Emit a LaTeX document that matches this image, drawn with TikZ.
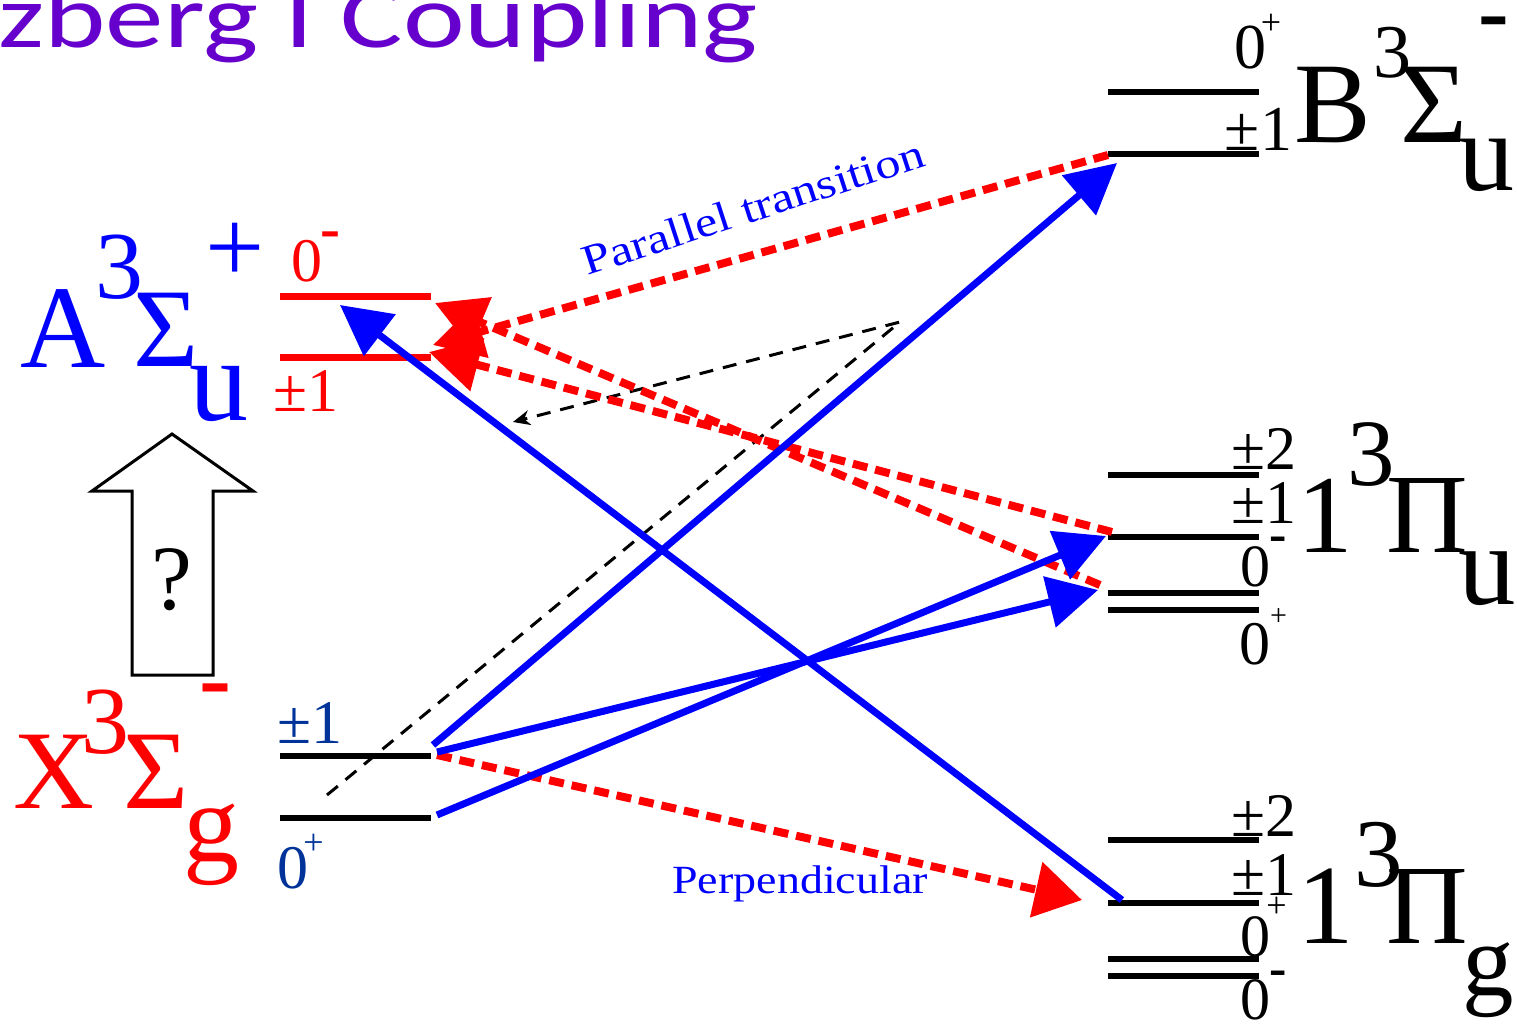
\documentclass[tikz,border=0pt]{standalone}
\usepackage{fontspec}
\setmainfont{Liberation Serif}
\newfontfamily\titlefont{Carlito}
\usetikzlibrary{arrows.meta}
\newcommand\fsz[1]{\fontsize{#1}{#1}\selectfont}
\definecolor{xblue}{RGB}{0,51,153}
\definecolor{ttl}{RGB}{102,0,204}
\tikzset{
  lbl/.style={inner sep=0pt, anchor=center},
  lvl/.style={line width=5.5pt},
  alvl/.style={line width=7pt, red},
  barr/.style={blue, line width=7pt, -{Triangle[length=50pt,width=51pt]}},
  rarr/.style={red, line width=8pt, dash pattern=on 15pt off 8pt, -{Triangle[length=50pt,width=53pt]}},
  karr/.style={black, line width=3pt, dash pattern=on 14pt off 10pt, -{Stealth[length=17pt,width=15pt]}},
  hollow/.style={draw=black, line width=3pt, fill=white, line join=miter}
}
\begin{document}
\begin{tikzpicture}[x=1pt,y=-1pt]
\useasboundingbox (0,0) rectangle (1517,1023);

% title
\node[inner sep=0pt, anchor=base west, text=ttl] (title) at (-2,47) {\scalebox{1.3}[1]{\titlefont\fsz{90}zberg I Coupling}};

% level lines
\draw[alvl] (280,296) coordinate (a0w) -- (431,296) coordinate (a0);
\draw[alvl] (280,357) coordinate (a1w) -- (431,357) coordinate (a1);
\draw[lvl] (280,756) coordinate (x1w) -- (431,756) coordinate (x1);
\draw[lvl] (280,818) coordinate (x0w) -- (431,818) coordinate (x0);
\draw[lvl] (1108,92) coordinate (b0) -- (1259,92) coordinate (b0e);
\draw[lvl] (1108,154) coordinate (b1) -- (1259,154) coordinate (b1e);
\draw[lvl] (1108,475) coordinate (u2) -- (1259,475) coordinate (u2e);
\draw[lvl] (1108,537) coordinate (u1) -- (1259,537) coordinate (u1e);
\draw[lvl] (1108,593) coordinate (u0m) -- (1259,593) coordinate (u0me);
\draw[lvl] (1108,610) coordinate (u0p) -- (1259,610) coordinate (u0pe);
\draw[lvl] (1108,840) coordinate (g2) -- (1259,840) coordinate (g2e);
\draw[lvl] (1108,903) coordinate (g1) -- (1259,903) coordinate (g1e);
\draw[lvl] (1108,959) coordinate (g0p) -- (1259,959) coordinate (g0pe);
\draw[lvl] (1108,976) coordinate (g0m) -- (1259,976) coordinate (g0me);

% arrow end points
\coordinate (s1) at (433,745);
\coordinate (t1) at (1117,163);
\coordinate (s2) at (437,752);
\coordinate (t2) at (1098,590);
\coordinate (s3) at (437,815);
\coordinate (t3) at (1106,536);
\coordinate (s4) at (1122,900);
\coordinate (t4) at (340,305);
\coordinate (s5) at (1108,155);
\coordinate (t5) at (433,345);
\coordinate (s6) at (1112,532);
\coordinate (t6) at (429,352);
\coordinate (s7) at (1100,585);
\coordinate (t7) at (435,303);
\coordinate (s8) at (437,755);
\coordinate (t8) at (1082,900);
\coordinate (k0) at (327,795);
\coordinate (k1) at (900,322);
\coordinate (k2) at (513,422);

% black dashed
\draw[karr] (k0) -- (k1) -- (k2);

% red dashed
\draw[rarr] (s5) -- (t5);
\draw[rarr] (s6) -- (t6);
\draw[rarr] (s7) -- (t7);
\draw[rarr, -{Triangle[length=47pt,width=55pt]}] (s8) -- (t8);

% blue solid
\draw[barr] (s1) -- (t1);
\draw[barr] (s2) -- (t2);
\draw[barr] (s3) -- (t3);
\draw[barr] (s4) -- (t4);

% hollow arrow
\draw[hollow] (172,434) -- (253,491) -- (213,491) -- (213,675) -- (132,675) -- (132,491) -- (92,491) -- cycle;
\node[lbl] (q) at (172,579.5) {\fsz{92}?};

% A label
\begin{scope}[every node/.style={lbl, text=blue}]
\node (aA) at (63.5,329) {\fsz{118}A};
\node (a3) at (119,267.5) {\fsz{96}3};
\node (aS) at (166.5,330) {\fsz{112}Σ};
\node (au) at (218.5,393.5) {\fsz{118}u};
\node (ap) at (235,252.5) {\fsz{105}+};
\end{scope}
\begin{scope}[every node/.style={lbl, text=red}]
\node (a0l) at (307,261) {\fsz{62}0};
\node (a0m) at (330.5,240) {\fsz{60}\bfseries -};
\node (a1l) at (306,391.5) {\fsz{62}±1};
% X label
\node (xX) at (53.5,772) {\fsz{112}X};
\node (x3) at (105,722.5) {\fsz{96}3};
\node (xS) at (156,772) {\fsz{112}Σ};
\node (xg) at (211,845) {\fsz{112}g};
\node (xm) at (215,697) {\fsz{96}\bfseries -};
\end{scope}
\begin{scope}[every node/.style={lbl, text=xblue}]
\node (x1l) at (310,723.5) {\fsz{62}±1};
\node (x0l) at (292.5,868.5) {\fsz{62}0};
\node (x0p) at (313.5,844.5) {\fsz{36}+};
\end{scope}

% B label
\begin{scope}[every node/.style={lbl, text=black}]
\node (bB) at (1333,105) {\fsz{115}B};
\node (b3) at (1392,52.5) {\fsz{76}3};
\node (bS) at (1434,105) {\fsz{115}Σ};
\node (bu) at (1486.5,165) {\fsz{112}u};
\node (bm) at (1493.5,30) {\fsz{92}\bfseries -};
\node (b0l) at (1250,47.5) {\fsz{64}0};
\node (b0p) at (1271,24) {\fsz{36}+};
\node (b1l) at (1258.5,129.5) {\fsz{64}±1};
% Pi u
\node (u1n) at (1325.5,515.5) {\fsz{111}1};
\node (u3) at (1371,455) {\fsz{95}3};
\node (uP) at (1427,515.5) {\fsz{113}Π};
\node (uu) at (1487,579) {\fsz{115}u};
\node (u2l) at (1264,449) {\fsz{62}±2};
\node (u1l) at (1263.5,503.5) {\fsz{62}±1};
\node (u0mm) at (1278.5,544.5) {\fsz{52}\bfseries -};
\node (u0ml) at (1255,567) {\fsz{60}0};
\node (u0pp) at (1278.5,617.5) {\fsz{30}+};
\node (u0pl) at (1255,644) {\fsz{62}0};
% Pi g
\node (g1n) at (1325.5,906.5) {\fsz{113}1};
\node (g3) at (1378.5,855) {\fsz{97}3};
\node (gP) at (1427,906.5) {\fsz{113}Π};
\node (gg) at (1488.5,980) {\fsz{103}g};
\node (g2l) at (1264,816) {\fsz{62}±2};
\node (g1l) at (1263.5,875) {\fsz{62}±1};
\node (g0pp) at (1276.5,907) {\fsz{36}+};
\node (g0pl) at (1255,937) {\fsz{60}0};
\node (g0mm) at (1278.5,978) {\fsz{52}\bfseries -};
\node (g0ml) at (1255,1000) {\fsz{60}0};
\end{scope}

% transition labels
\node[lbl, text=blue, rotate=18] (par) at (753,207) {\scalebox{1.2}[1]{\fsz{42}Parallel transition}};
\node[lbl, text=blue] (perp) at (800,884) {\scalebox{1.15}[1]{\fsz{40}Perpendicular}};
\end{tikzpicture}
\end{document}
